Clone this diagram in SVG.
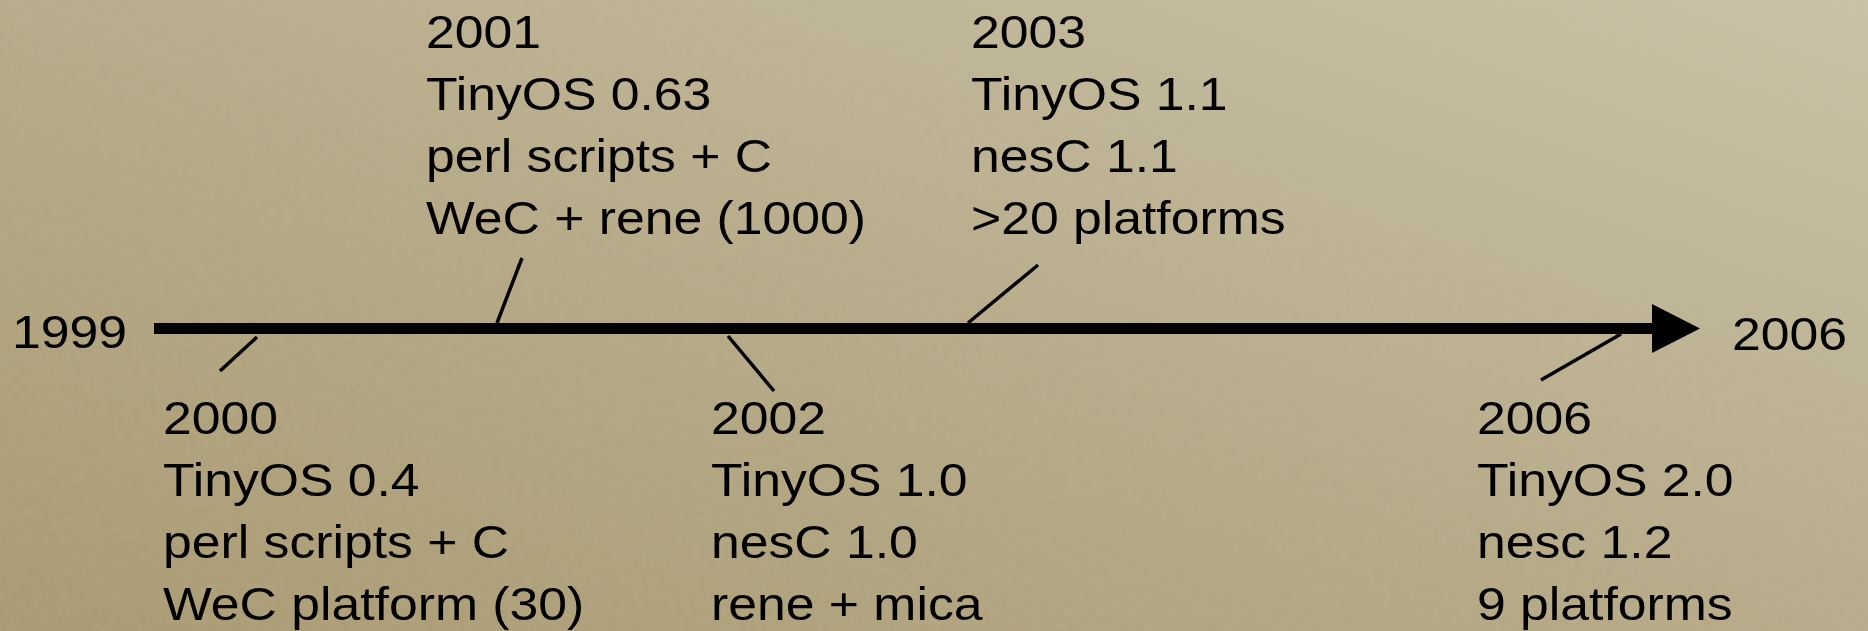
<svg xmlns="http://www.w3.org/2000/svg" width="1868" height="631" viewBox="0 0 1868 631">
  <style>
    .lbl { font-family: "Liberation Sans", Arial, Helvetica, sans-serif; font-size: 47px; fill: #000; }
    .tick { stroke: #000; stroke-width: 3.5; fill: none; }
    .axis { stroke: #000; stroke-width: 11; fill: none; }
  </style>
  <defs>
    <linearGradient id="paper" x1="0" y1="1" x2="1" y2="0">
      <stop offset="0" stop-color="#a89a71"/>
      <stop offset="0.45" stop-color="#b5a986"/>
      <stop offset="1" stop-color="#cac2a7"/>
    </linearGradient>
    <filter id="grain" x="0" y="0" width="100%" height="100%">
      <feTurbulence type="fractalNoise" baseFrequency="0.12" numOctaves="3" seed="7" result="n"/>
      <feColorMatrix type="matrix" values="0 0 0 0 0.55  0 0 0 0 0.5  0 0 0 0 0.4  0 0 0 0.22 -0.04"/>
    </filter>
  </defs>

  <!-- background paper -->
  <rect width="1868" height="631" fill="url(#paper)"/>
  <rect width="1868" height="631" filter="url(#grain)"/>

  <!-- timeline axis and leader lines -->
  <g id="connectors">
    <line class="axis" x1="154" y1="328.5" x2="1655" y2="328.5"/>
    <polygon points="1652,304 1700,328.5 1652,353" fill="#000"/>
    <line class="tick" x1="257" y1="337" x2="220" y2="371"/>
    <line class="tick" x1="522" y1="258" x2="497" y2="323"/>
    <line class="tick" x1="728" y1="336" x2="774" y2="391"/>
    <line class="tick" x1="1038" y1="265" x2="968" y2="323"/>
    <line class="tick" x1="1621" y1="334" x2="1541" y2="380"/>
  </g>

  <!-- labels are set slightly wide, hence the horizontal scale -->
  <g id="start" transform="translate(12 0) scale(1.1 1)">
    <text class="lbl" x="0" y="348">1999</text>
  </g>
  <g id="end" transform="translate(1732 0) scale(1.1 1)">
    <text class="lbl" x="0" y="350">2006</text>
  </g>

  <g id="y2000" transform="translate(163 0) scale(1.1 1)">
    <text class="lbl" x="0" y="434">2000</text>
    <text class="lbl" x="0" y="496">TinyOS 0.4</text>
    <text class="lbl" x="0" y="558">perl scripts + C</text>
    <text class="lbl" x="0" y="620">WeC platform (30)</text>
  </g>

  <g id="y2001" transform="translate(426 0) scale(1.1 1)">
    <text class="lbl" x="0" y="48">2001</text>
    <text class="lbl" x="0" y="110">TinyOS 0.63</text>
    <text class="lbl" x="0" y="172">perl scripts + C</text>
    <text class="lbl" x="0" y="234">WeC + rene (1000)</text>
  </g>

  <g id="y2002" transform="translate(711 0) scale(1.1 1)">
    <text class="lbl" x="0" y="434">2002</text>
    <text class="lbl" x="0" y="496">TinyOS 1.0</text>
    <text class="lbl" x="0" y="558">nesC 1.0</text>
    <text class="lbl" x="0" y="620">rene + mica</text>
  </g>

  <g id="y2003" transform="translate(971 0) scale(1.1 1)">
    <text class="lbl" x="0" y="48">2003</text>
    <text class="lbl" x="0" y="110">TinyOS 1.1</text>
    <text class="lbl" x="0" y="172">nesC 1.1</text>
    <text class="lbl" x="0" y="234">&gt;20 platforms</text>
  </g>

  <g id="y2006" transform="translate(1477 0) scale(1.1 1)">
    <text class="lbl" x="0" y="434">2006</text>
    <text class="lbl" x="0" y="496">TinyOS 2.0</text>
    <text class="lbl" x="0" y="558">nesc 1.2</text>
    <text class="lbl" x="0" y="620">9 platforms</text>
  </g>
</svg>
